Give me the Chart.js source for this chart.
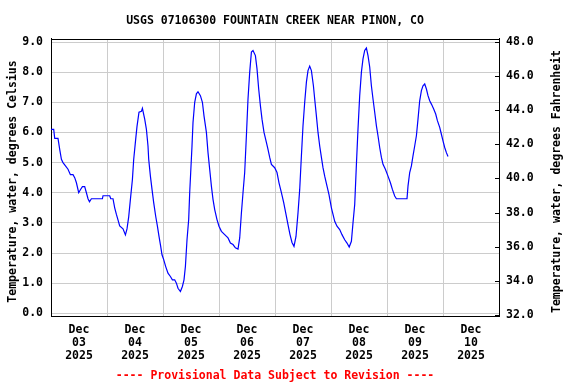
<!DOCTYPE html>
<html><head><meta charset="utf-8">
<script src="https://cdn.jsdelivr.net/npm/chart.js@4/dist/chart.umd.min.js"></script>
<style>html,body{margin:0;padding:0;background:#fff}</style>
</head><body>
<canvas id="c" width="576" height="384"></canvas>
<script>
const titleText = 'USGS 07106300 FOUNTAIN CREEK NEAR PINON, CO';
const footerText = '---- Provisional Data Subject to Revision ----';
const leftTitle = 'Temperature, water, degrees Celsius';
const rightTitle = 'Temperature, water, degrees Fahrenheit';
const monthLabel = 'Dec';
const yearLabel = '2025';
const dayLabels = ['03','04','05','06','07','08','09','10'];
const celsiusTicks = [0,1,2,3,4,5,6,7,8,9];
const fahrenheitTicks = [32,34,36,38,40,42,44,46,48];
// hours since 2025-12-03 00:00
const hours = [0,1.16,1.6,3.0,3.73,4.46,5.14,6.2,7.29,8.31,9.43,10.16,10.89,11.87,12.6,13.46,14.44,15.17,15.86,16.5,17.31,22.03,22.29,25.16,25.6,26.57,27.3,28.03,28.71,29.44,30.86,31.89,32.57,33.3,34.03,34.89,35.44,36.3,36.86,37.71,38.74,39.17,40.16,40.89,41.57,41.87,42.6,43.29,44.01,44.87,45.6,46.29,47.01,47.57,48.3,49.16,50.14,51.17,52.03,53.01,53.74,54.43,55.46,56.31,57.0,57.6,58.29,59.01,59.44,59.87,60.43,60.86,61.59,62.31,63.0,64.03,64.89,65.57,66.6,67.29,68.01,68.74,69.43,70.16,71.14,72.0,73.03,74.44,75.86,76.89,78.0,79.03,80.14,80.87,81.6,82.29,83.01,83.74,84.43,85.16,85.89,86.57,87.6,88.29,89.01,89.74,90.43,91.29,92.31,93.0,93.73,94.46,95.87,96.86,97.71,98.74,99.73,100.59,101.57,102.43,103.29,104.14,105.0,105.86,106.59,107.31,108.0,108.73,109.46,110.14,110.87,111.6,112.46,113.01,113.74,114.43,115.16,115.89,116.57,117.3,118.29,119.14,120.17,120.86,121.59,122.57,123.73,124.71,125.87,126.86,127.8,128.74,129.43,130.16,130.89,131.57,132.3,133.03,133.71,134.44,135.17,135.86,136.59,137.31,138.0,138.73,139.46,140.14,140.87,141.6,142.29,143.31,144.43,145.46,146.31,147.3,148.03,152.57,153.0,153.73,154.46,155.14,155.87,156.6,157.29,158.01,158.74,159.43,160.16,160.89,161.57,162.3,163.03,164.01,164.87,165.6,166.59,167.31,168.0,168.73,169.46,170.14];
const temps = [6.1,6.1,5.8,5.8,5.44,5.11,5.0,4.89,4.78,4.6,4.6,4.5,4.33,4.0,4.1,4.2,4.2,4.0,3.8,3.7,3.8,3.8,3.9,3.9,3.8,3.8,3.5,3.28,3.1,2.9,2.8,2.6,2.8,3.2,3.78,4.44,5.1,5.78,6.2,6.67,6.7,6.8,6.44,6.1,5.55,5.11,4.55,4.11,3.67,3.22,2.89,2.55,2.22,1.94,1.78,1.55,1.33,1.22,1.11,1.11,1.0,0.83,0.72,0.89,1.11,1.55,2.44,3.11,4.0,4.67,5.55,6.33,7.0,7.28,7.35,7.22,7.0,6.55,6.0,5.33,4.78,4.22,3.78,3.44,3.11,2.89,2.72,2.61,2.5,2.33,2.28,2.17,2.13,2.5,3.33,4.0,4.67,5.89,7.11,8.0,8.67,8.72,8.55,8.11,7.44,6.89,6.44,6.0,5.67,5.44,5.17,4.94,4.83,4.67,4.33,4.0,3.67,3.33,2.94,2.61,2.35,2.22,2.55,3.33,4.11,5.22,6.22,7.0,7.67,8.05,8.2,8.05,7.55,7.11,6.55,6.0,5.55,5.17,4.83,4.55,4.22,3.94,3.5,3.28,3.05,2.89,2.78,2.61,2.44,2.33,2.2,2.39,3.0,3.61,4.94,6.11,7.22,8.0,8.44,8.72,8.8,8.55,8.17,7.55,7.11,6.67,6.22,5.89,5.5,5.17,4.94,4.78,4.55,4.33,4.11,3.89,3.8,3.8,4.22,4.67,4.89,5.22,5.55,5.89,6.44,7.05,7.39,7.55,7.61,7.44,7.22,7.05,6.94,6.78,6.61,6.39,6.17,5.94,5.72,5.5,5.33,5.2];

const FONT = 'DejaVu Sans Mono';
const f = (size, weight) => ({family: FONT, size: size, weight: weight || 'bold', lineHeight: 1.13});

const points = hours.map((h, i) => ({x: h, y: temps[i]}));

const framePlugin = {
  id: 'frame',
  afterDraw(chart) {
    const ctx = chart.ctx, a = chart.chartArea;
    ctx.save();
    ctx.strokeStyle = '#000';
    ctx.lineWidth = 1;
    ctx.beginPath();
    ctx.moveTo(a.left, Math.round(a.top) + 0.5);
    ctx.lineTo(a.right, Math.round(a.top) + 0.5);
    ctx.stroke();
    // inward tick marks for the Fahrenheit axis
    const sF = chart.scales.yF;
    fahrenheitTicks.forEach(v => {
      const y = Math.round(sF.getPixelForValue(v)) + 0.5;
      ctx.beginPath();
      ctx.moveTo(a.right - 4, y);
      ctx.lineTo(a.right, y);
      ctx.stroke();
    });
    // axis titles, both reading bottom-to-top
    ctx.fillStyle = '#000';
    ctx.font = 'bold 11.5px "' + FONT + '"';
    ctx.textAlign = 'center';
    ctx.textBaseline = 'middle';
    const cy = (a.top + a.bottom) / 2 + 4;
    ctx.save(); ctx.translate(13, cy); ctx.rotate(-Math.PI / 2); ctx.fillText(leftTitle, 0, 0); ctx.restore();
    ctx.save(); ctx.translate(557, cy); ctx.rotate(-Math.PI / 2); ctx.fillText(rightTitle, 0, 0); ctx.restore();
    ctx.restore();
  }
};

new Chart(document.getElementById('c'), {
  type: 'line',
  data: {datasets: [{data: points, borderColor: '#0000ff', borderWidth: 1.2, pointRadius: 0, fill: false, tension: 0, yAxisID: 'y'}]},
  options: {
    responsive: false, animation: false, devicePixelRatio: 1,
    layout: {padding: 0},
    plugins: {
      legend: {display: false}, tooltip: {enabled: false},
      title: {display: true, text: titleText, color: '#000', font: f(11.5), fullSize: false, padding: {top: 15, bottom: 11}},
      subtitle: {display: true, position: 'bottom', text: footerText, color: '#ff0000', font: f(11.5), fullSize: false, padding: {top: 5, bottom: 1}}
    },
    scales: {
      x: {
        type: 'linear', min: 0, max: 192,
        afterFit(s) { s.height = 49; },
        afterBuildTicks(s) { const t = []; for (let v = 0; v <= 192; v += 12) t.push({value: v}); s.ticks = t; },
        ticks: {
          autoSkip: false, maxRotation: 0, padding: 8, color: '#000', font: f(11.5),
          callback(v) { if (v % 24 === 12) { return [monthLabel, dayLabels[(v - 12) / 24], yearLabel]; } return ''; }
        },
        grid: {drawTicks: false, color: c => (c.tick && c.tick.value % 24 === 0) ? '#cccccc' : 'rgba(0,0,0,0)', lineWidth: 1},
        border: {display: true, color: '#000', width: 1}
      },
      y: {
        position: 'left', min: -0.09, max: 9.1,
        afterFit(s) { s.width = 51; },
        afterBuildTicks(s) { s.ticks = celsiusTicks.map(v => ({value: v})); },
        ticks: {padding: 8, color: '#000', font: f(11.5), callback: v => Number(v).toFixed(1)},
        grid: {drawTicks: false, color: '#cccccc', lineWidth: 1},
        border: {display: true, color: '#000', width: 1}
      },
      yF: {
        position: 'right', min: 31.95, max: 48.15,
        afterFit(s) { s.width = 77; },
        afterBuildTicks(s) { s.ticks = fahrenheitTicks.map(v => ({value: v})); },
        ticks: {padding: 7, color: '#000', font: f(11.5), callback: v => Number(v).toFixed(1)},
        grid: {drawTicks: false, drawOnChartArea: false},
        border: {display: true, color: '#000', width: 1}
      }
    }
  },
  plugins: [framePlugin]
});
</script>
</body></html>
